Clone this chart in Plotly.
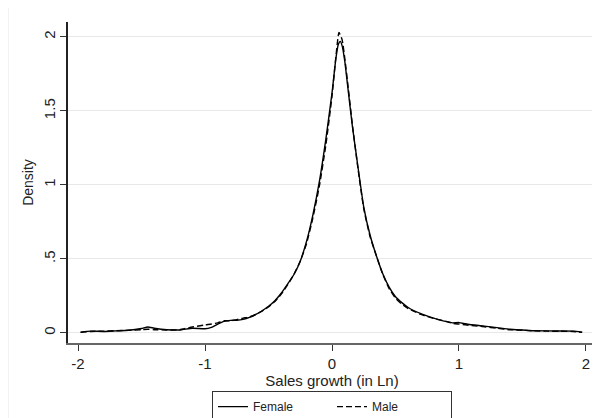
import plotly.graph_objects as go

x_female = [-1.98, -1.9, -1.8, -1.7, -1.6, -1.5, -1.45, -1.4, -1.3, -1.2, -1.1, -1.0, -0.95, -0.9, -0.85,
            -0.8, -0.75, -0.7, -0.65, -0.6, -0.55, -0.5, -0.45, -0.4, -0.35, -0.3, -0.25, -0.2, -0.15,
            -0.1, -0.05, 0.0, 0.03, 0.05, 0.065, 0.08, 0.1, 0.13, 0.16, 0.2, 0.25, 0.3, 0.35, 0.4, 0.45,
            0.5, 0.55, 0.6, 0.7, 0.8, 0.9, 0.95, 1.0, 1.05, 1.1, 1.2, 1.3, 1.4, 1.5, 1.6, 1.7, 1.8, 1.9, 1.97]
y_female = [0.005, 0.012, 0.010, 0.014, 0.018, 0.030, 0.040, 0.032, 0.022, 0.020, 0.032, 0.028, 0.038, 0.060, 0.078,
            0.085, 0.086, 0.092, 0.105, 0.125, 0.150, 0.180, 0.218, 0.268, 0.330, 0.395, 0.485, 0.620, 0.800,
            1.02, 1.30, 1.62, 1.85, 1.95, 1.97, 1.94, 1.84, 1.62, 1.40, 1.15, 0.85, 0.66, 0.52, 0.40, 0.31,
            0.245, 0.205, 0.172, 0.13, 0.10, 0.076, 0.068, 0.070, 0.062, 0.055, 0.046, 0.036, 0.025, 0.020, 0.015,
            0.014, 0.013, 0.012, 0.005]

x_male = [-1.98, -1.9, -1.8, -1.7, -1.6, -1.5, -1.45, -1.4, -1.3, -1.2, -1.1, -1.0, -0.95, -0.9, -0.85,
          -0.8, -0.75, -0.7, -0.65, -0.6, -0.55, -0.5, -0.45, -0.4, -0.35, -0.3, -0.25, -0.2, -0.15,
          -0.1, -0.05, 0.0, 0.03, 0.055, 0.08, 0.1, 0.13, 0.16, 0.2, 0.25, 0.3, 0.35, 0.4, 0.45,
          0.5, 0.55, 0.6, 0.7, 0.8, 0.9, 0.95, 1.0, 1.05, 1.1, 1.2, 1.3, 1.4, 1.5, 1.6, 1.7, 1.8, 1.9, 1.97]
y_male = [0.004, 0.010, 0.012, 0.015, 0.018, 0.022, 0.025, 0.022, 0.020, 0.022, 0.040, 0.054, 0.060, 0.068, 0.082,
          0.082, 0.090, 0.100, 0.108, 0.125, 0.148, 0.175, 0.212, 0.262, 0.325, 0.395, 0.485, 0.605, 0.780,
          0.990, 1.26, 1.60, 1.86, 2.03, 1.98, 1.86, 1.64, 1.41, 1.14, 0.84, 0.65, 0.52, 0.395, 0.30,
          0.235, 0.195, 0.165, 0.125, 0.098, 0.078, 0.065, 0.060, 0.055, 0.050, 0.042, 0.032, 0.022, 0.018, 0.014,
          0.012, 0.011, 0.010, 0.004]

x_ticks = [-2, -1, 0, 1, 2]
x_tick_labels = ["-2", "-1", "0", "1", "2"]
y_ticks = [0, 0.5, 1, 1.5, 2]
y_tick_labels = ["0", ".5", "1", "1.5", "2"]

font = "Liberation Sans, Arial, sans-serif"

fig = go.Figure()
fig.add_trace(go.Scatter(x=x_female, y=y_female, mode="lines", name="Female",
                         line=dict(color="black", width=1.4, shape="spline", smoothing=0.5)))
fig.add_trace(go.Scatter(x=x_male, y=y_male, mode="lines", name="Male",
                         line=dict(color="black", width=1.4, dash="6px,3px", shape="spline", smoothing=0.5)))

fig.update_layout(
    width=600, height=418,
    margin=dict(l=60, r=12, t=14, b=83, autoexpand=False),
    paper_bgcolor="white", plot_bgcolor="white",
    font=dict(family=font, size=15, color="#222"),
    legend=dict(orientation="h", x=0.5, xanchor="center", y=-0.15, yanchor="top",
                bordercolor="#333", borderwidth=1, font=dict(size=12, color="#222"),
                entrywidth=74, entrywidthmode="pixels", tracegroupgap=0),
    shapes=[dict(type="rect", xref="paper", yref="paper", x0=-0.1136, x1=1.0057, y0=-0.4, y1=1.0498,
                 line=dict(color="#e6e6e6", width=1), layer="below")],
)
fig.update_xaxes(range=[-2.079, 2.079], tickvals=x_ticks, ticktext=x_tick_labels, automargin=False,
                 showline=True, linecolor="#666", linewidth=1.5, ticks="outside", ticklen=6,
                 tickcolor="#333", showgrid=False, zeroline=False,
                 title=dict(text="Sales growth (in Ln)", standoff=2, font=dict(size=15)))
fig.update_yaxes(range=[-0.068, 2.101], tickvals=y_ticks, ticktext=y_tick_labels, tickangle=-90,
                 automargin=False, ticklabelstandoff=-1,
                 showline=True, linecolor="#222", linewidth=1.5, ticks="outside", ticklen=6,
                 tickcolor="#333", showgrid=True, gridcolor="#e8e8e8", gridwidth=1, zeroline=False,
                 title=dict(text="Density", standoff=4, font=dict(size=14)))

fig.write_html("out.html")
